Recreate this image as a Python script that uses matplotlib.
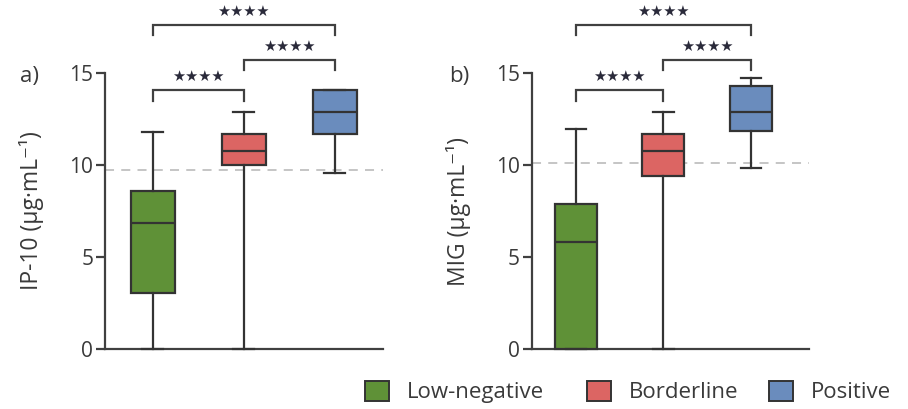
import matplotlib
matplotlib.use("Agg")
import matplotlib.pyplot as plt
from matplotlib.patches import Patch

plt.rcParams['font.family'] = ['Open Sans', 'DejaVu Sans']

groups = ["Low-negative", "Borderline", "Positive"]
colors = ["#5f9137", "#dc6563", "#6a8cbd"]

# Panel a: IP-10
ip10_whislo = [0.0, 0.0, 9.55]
ip10_q1 = [3.06, 10.0, 11.68]
ip10_med = [6.86, 10.75, 12.88]
ip10_q3 = [8.6, 11.66, 14.09]
ip10_whishi = [11.77, 12.88, 14.09]
ip10_cutoff = 9.72

# Panel b: MIG
mig_whislo = [0.0, 0.0, 9.83]
mig_q1 = [0.0, 9.41, 11.86]
mig_med = [5.84, 10.75, 12.88]
mig_q3 = [7.87, 11.66, 14.27]
mig_whishi = [11.95, 12.88, 14.73]
mig_cutoff = 10.1

sig_labels = ["★★★★", "★★★★", "★★★★"]
yticks = [0, 5, 10, 15]

W, H = 908, 409
fig = plt.figure(figsize=(W / 100, H / 100), dpi=100)

edge = "#333333"
spine_c = "#404040"
txt_c = "#3a3a3a"

def panel(rect, xlim, lo, q1, med, q3, hi, cutoff, ylabel, tag, tagx):
    ax = fig.add_axes(rect)
    stats = []
    for i in range(3):
        stats.append(dict(whislo=lo[i], q1=q1[i], med=med[i], q3=q3[i],
                          whishi=hi[i], fliers=[], label=groups[i]))
    pos = [1, 2, 3]
    b = ax.bxp(stats, positions=pos, widths=0.48, patch_artist=True,
               showfliers=False,
               boxprops=dict(edgecolor=edge, linewidth=1.6),
               medianprops=dict(color=edge, linewidth=1.6),
               whiskerprops=dict(color=edge, linewidth=1.6),
               capprops=dict(color=edge, linewidth=1.6),
               capwidths=0.23, zorder=3)
    for p, c in zip(b['boxes'], colors):
        p.set_facecolor(c)
    for k in ['boxes', 'medians', 'whiskers', 'caps']:
        for a in b[k]:
            a.set_clip_on(False)
    ax.axhline(cutoff, color="#c0c0c0", lw=1.3, ls=(0, (5, 4)), zorder=1)
    ax.set_xlim(*xlim)
    ax.set_ylim(0, 15)
    ax.set_yticks(yticks)
    ax.set_xticks([])
    for s in ['top', 'right']:
        ax.spines[s].set_visible(False)
    for s in ['left', 'bottom']:
        ax.spines[s].set_color(spine_c)
        ax.spines[s].set_linewidth(1.6)
    ax.tick_params(axis='y', direction='out', length=6.5, width=1.6,
                   color=spine_c, labelsize=15, labelcolor=txt_c, pad=2)
    ax.set_ylabel(ylabel, fontsize=16.5, color=txt_c)
    ax.yaxis.set_label_coords(-0.218, 0.5)
    # brackets
    brk = [(1, 2, 13.49, 14.07, 14.4), (2, 3, 15.18, 15.72, 16.05), (1, 3, 17.08, 17.63, 17.95)]
    for (x1, x2, yb, yt, ys), lab in zip(brk, sig_labels):
        ax.plot([x1, x1, x2, x2], [yb, yt, yt, yb], color="#404040", lw=1.6,
                clip_on=False, solid_joinstyle='miter')
        ax.text((x1 + x2) / 2, ys, lab, ha='center', va='bottom',
                fontsize=10.5, color="#2a2a3a", family=['DejaVu Sans'])
    fig.text(tagx, 0.814, tag, fontsize=16, color=txt_c, ha='left', va='center')
    return ax

panel([105 / W, 60 / H, 278 / W, 276 / H], (0.475, 3.53),
      ip10_whislo, ip10_q1, ip10_med, ip10_q3, ip10_whishi, ip10_cutoff,
      "IP-10 (µg·mL⁻¹)", "a)", 20 / W)
panel([531.7 / W, 60 / H, 277 / W, 276 / H], (0.494, 3.66),
      mig_whislo, mig_q1, mig_med, mig_q3, mig_whishi, mig_cutoff,
      "MIG (µg·mL⁻¹)", "b)", 449 / W)

leg_x = [365, 587, 769]
for c, g, lx in zip(colors, groups, leg_x):
    h = Patch(facecolor=c, edgecolor=edge, linewidth=1.4, label=g)
    fig.legend(handles=[h], loc='center left', bbox_to_anchor=(lx / W, 17 / H),
               frameon=False, fontsize=16, handlelength=1.08, handleheight=1.05,
               handletextpad=0.8, borderpad=0, borderaxespad=0,
               labelcolor=txt_c)

fig.savefig("out.png", dpi=100)
